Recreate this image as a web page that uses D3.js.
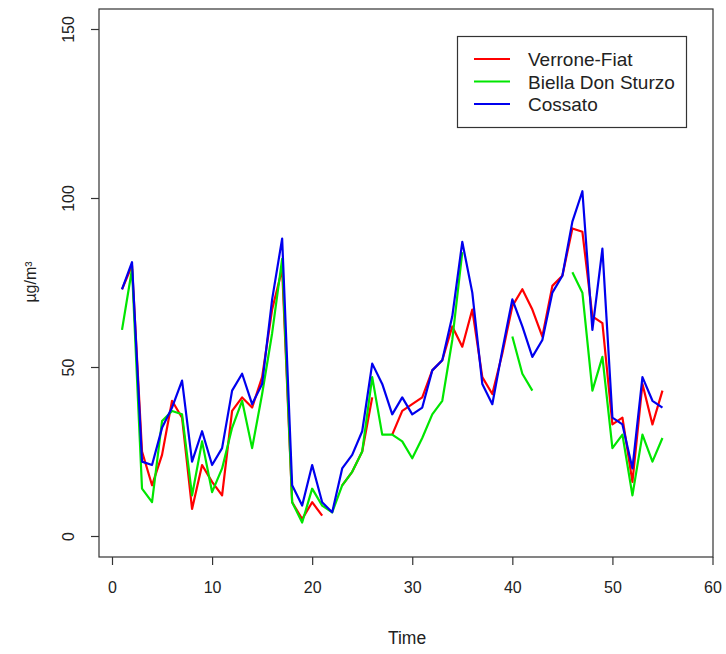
<!DOCTYPE html>
<html>
<head>
<meta charset="utf-8">
<script src="https://cdn.jsdelivr.net/npm/d3@7"></script>
<style>
  html, body { margin: 0; padding: 0; background: #fff; }
  svg { display: block; font-family: "Liberation Sans", Arial, Helvetica, sans-serif; }
</style>
</head>
<body>
<svg id="chart" width="726" height="654"></svg>
<script>
// ---- data ----
const seriesNames = ["Verrone-Fiat", "Biella Don Sturzo", "Cossato"];
const seriesColors = ["#ff0000", "#00e600", "#0000ee"];
const time = d3.range(1, 56);
const verrone = [73, 80, 25, 15, 24, 40, 35, 8, 21, 16,
  12, 37, 41, 38, 47, 67, 79, 10, 5, 10,
  6, null, 15, 19, 25, 41, null, 30, 37, 39,
  41, 49, 52, 62, 56, 67, 47, 42, 54, 68,
  73, 67, 59, 74, 77, 91, 90, 65, 63, 33,
  35, 16, 45, 33, 43];
const biella = [61, 79, 14, 10, 34, 37, 36, 12, 28, 13,
  20, 32, 40, 26, 42, 60, 82, 10, 4, 14,
  9, 7, 15, 19, 25, 47, 30, 30, 28, 23,
  29, 36, 40, 58, 84, null, null, null, null, 59,
  48, 43, null, null, null, 78, 72, 43, 53, 26,
  30, 12, 30, 22, 29];
const cossato = [73, 81, 22, 21, 32, 38, 46, 22, 31, 21,
  26, 43, 48, 39, 45, 70, 88, 15, 9, 21,
  10, 7, 20, 24, 31, 51, 45, 36, 41, 36,
  38, 49, 52, 65, 87, 72, 45, 39, 55, 70,
  62, 53, 58, 72, 77, 93, 102, 61, 85, 35,
  33, 20, 47, 40, 38];
const xTicks = [0, 10, 20, 30, 40, 50, 60];
const yTicks = [0, 50, 100, 150];
const xLabel = "Time";
const yLabel = "µg/m³";

// ---- layout ----
const svg = d3.select("#chart");
const box = {left: 99, right: 713, top: 9, bottom: 557};
const x = d3.scaleLinear().domain([0, 60]).range([112, 712.5]);
const y = d3.scaleLinear().domain([0, 150]).range([536, 29]);
const textCol = "#222";

// lines
const allSeries = [verrone, biella, cossato];
const line = d3.line()
  .defined(d => d.v != null)
  .x(d => x(d.t))
  .y(d => y(d.v));
allSeries.forEach((vals, i) => {
  const pts = time.map((t, j) => ({t: t, v: vals[j]}));
  svg.append("path")
    .datum(pts)
    .attr("d", line)
    .attr("fill", "none")
    .attr("stroke", seriesColors[i])
    .attr("stroke-width", 2.2)
    .attr("stroke-linejoin", "round");
});

// box
svg.append("rect")
  .attr("x", box.left).attr("y", box.top)
  .attr("width", box.right - box.left).attr("height", box.bottom - box.top)
  .attr("fill", "none").attr("stroke", "#333").attr("stroke-width", 1.2);

// x axis
const gx = svg.append("g")
  .attr("transform", `translate(0,${box.bottom})`)
  .call(d3.axisBottom(x).tickValues(xTicks).tickSize(8).tickPadding(17).tickFormat(d3.format("d")));
gx.select(".domain").remove();
gx.selectAll(".tick line").attr("stroke", "#333").attr("stroke-width", 1.2);
gx.selectAll(".tick text").attr("font-size", 16).attr("fill", textCol)
  .attr("font-family", "'Liberation Sans', Arial, sans-serif");

// y axis
const gy = svg.append("g")
  .attr("transform", `translate(${box.left},0)`)
  .call(d3.axisLeft(y).tickValues(yTicks).tickSize(8).tickFormat(d3.format("d")));
gy.select(".domain").remove();
gy.selectAll(".tick line").attr("stroke", "#333").attr("stroke-width", 1.2);
gy.selectAll(".tick text")
  .attr("font-size", 16).attr("fill", textCol)
  .attr("font-family", "'Liberation Sans', Arial, sans-serif")
  .attr("transform", "rotate(-90)")
  .attr("text-anchor", "middle")
  .attr("x", 0).attr("y", -25).attr("dy", 0);

// axis titles
svg.append("text")
  .attr("x", (box.left + box.right) / 2 + 1).attr("y", 644)
  .attr("text-anchor", "middle").attr("font-size", 17.5).attr("fill", textCol)
  .text(xLabel);
svg.append("text")
  .attr("transform", `translate(36,${(box.top + box.bottom) / 2 - 1}) rotate(-90)`)
  .attr("text-anchor", "middle").attr("font-size", 16).attr("fill", textCol)
  .text(yLabel);

// legend
const lg = svg.append("g");
lg.append("rect")
  .attr("x", 457.5).attr("y", 36.5).attr("width", 229).attr("height", 91)
  .attr("fill", "#fff").attr("stroke", "#333").attr("stroke-width", 1.2);
const rowsY = [59, 81.5, 104];
seriesNames.forEach((name, i) => {
  lg.append("line")
    .attr("x1", 474).attr("x2", 510).attr("y1", rowsY[i]).attr("y2", rowsY[i])
    .attr("stroke", seriesColors[i]).attr("stroke-width", 2.2);
  lg.append("text")
    .attr("x", 528).attr("y", rowsY[i] + 7)
    .attr("font-size", 19).attr("fill", textCol)
    .text(name);
});
</script>
</body>
</html>
